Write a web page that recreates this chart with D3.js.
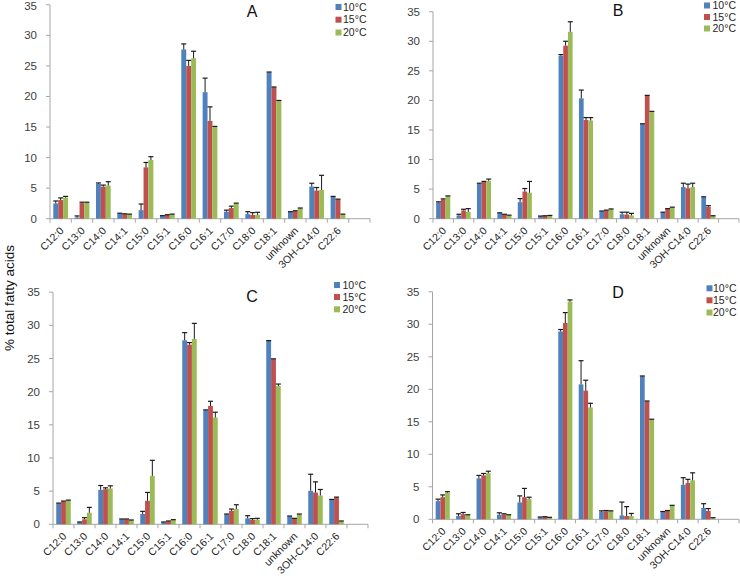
<!DOCTYPE html>
<html><head><meta charset="utf-8">
<script src="https://cdn.jsdelivr.net/npm/d3@7"></script>
<style>body{margin:0;background:#fff}svg{display:block}</style>
</head><body>
<svg id="chart" width="740" height="576"></svg>
<script>
const categories = ["C12:0","C13:0","C14:0","C14:1","C15:0","C15:1","C16:0","C16:1","C17:0","C18:0","C18:1","unknown","3OH-C14:0","C22:6"];
const seriesNames = ["10°C","15°C","20°C"];
const yTicks = [0,5,10,15,20,25,30,35];
const panelNames = ["A","B","C","D"];

// Panel A
const a10 = [2.5,0.2,5.7,0.85,1.4,0.45,27.7,20.7,1.15,0.75,23.95,1.1,5.25,3.6];
const a15 = [3.05,2.55,5.25,0.75,8.4,0.6,25.0,16.0,1.75,0.6,21.5,1.25,4.6,3.15];
const a20 = [3.45,2.65,5.4,0.7,9.6,0.7,26.25,15.05,2.5,0.65,19.3,1.7,4.7,0.7];
const a10e = [0.4,0.25,0.15,0.05,1.0,0.05,0.9,2.3,0.25,0.4,0.05,0.05,0.55,0.05];
const a15e = [0.35,0.15,0.25,0.05,0.8,0.05,0.9,2.3,0.3,0.4,0.05,0.05,0.5,0.05];
const a20e = [0.2,0.05,0.65,0.05,0.55,0.05,1.15,0.05,0.05,0.4,0.05,0.05,2.4,0.05];
// Panel B
const b10 = [2.75,0.55,5.9,0.95,2.8,0.4,27.55,20.35,1.25,0.75,16.0,1.05,5.35,3.65];
const b15 = [3.25,1.4,6.2,0.7,4.6,0.45,29.25,16.7,1.4,0.7,20.8,1.65,5.15,2.0];
const b20 = [3.8,1.15,6.4,0.55,4.4,0.5,31.6,16.6,1.6,0.55,18.1,1.9,5.35,0.45];
const b10e = [0.1,0.2,0.1,0.05,0.6,0.05,0.2,1.4,0.05,0.35,0.05,0.05,0.65,0.05];
const b15e = [0.1,0.2,0.1,0.05,0.5,0.05,0.75,0.4,0.05,0.4,0.05,0.05,0.7,0.2];
const b20e = [0.05,0.55,0.3,0.05,1.9,0.05,1.7,0.5,0.05,0.35,0.05,0.05,0.65,0.05];
// Panel C
const c10 = [3.15,0.3,5.2,0.75,1.55,0.3,27.75,17.2,1.5,0.9,27.65,1.2,5.05,3.7];
const c15 = [3.45,0.75,5.3,0.75,3.55,0.45,27.1,17.85,2.05,0.65,24.9,0.85,4.8,4.05];
const c20 = [3.6,1.75,5.4,0.6,7.3,0.65,27.95,16.1,2.3,0.7,20.85,1.5,4.35,0.45];
const c10e = [0.05,0.05,0.65,0.05,0.4,0.05,1.15,0.05,0.05,0.4,0.05,0.05,2.5,0.05];
const c15e = [0.05,0.25,0.2,0.05,1.25,0.05,0.3,0.7,0.25,0.2,0.05,0.05,1.6,0.05];
const c20e = [0.05,0.8,0.4,0.05,2.35,0.05,2.35,0.8,0.65,0.2,0.3,0.05,0.9,0.05];
// Panel D
const d10 = [2.8,0.5,6.3,0.7,2.6,0.3,28.9,20.75,1.15,0.6,22.0,1.15,5.3,1.75];
const d15 = [3.4,0.8,6.75,0.75,3.4,0.35,30.2,19.8,1.25,0.5,18.15,1.3,5.6,1.3];
const d20 = [4.1,0.65,7.1,0.65,3.1,0.25,33.5,17.2,1.25,0.5,15.35,2.1,6.0,0.15];
const d10e = [0.3,0.35,0.45,0.3,1.0,0.05,0.3,3.65,0.15,2.05,0.05,0.05,1.1,0.65];
const d15e = [0.35,0.25,0.3,0.1,1.35,0.05,1.6,1.6,0.1,1.45,0.05,0.05,0.55,0.35];
const d20e = [0.15,0.05,0.3,0.05,0.3,0.05,0.25,0.65,0.05,0.4,0.05,0.05,1.15,0.1];

const colors = ["#4F81BD","#C0504D","#9BBB59"];
const panels = [
  {name:"A", vals:[a10,a15,a20], errs:[a10e,a15e,a20e], x0:50, x1:370, yTop:4.8, y0:218.7, title:[252,11], leg:{sx:335.5, tx:343, ys:[7,19.7,32.5]}},
  {name:"B", vals:[b10,b15,b20], errs:[b10e,b15e,b20e], x0:433, x1:739, yTop:11.7, y0:218.7, title:[618,10], leg:{sx:704, tx:712.5, ys:[5.5,17,28.5]}},
  {name:"C", vals:[c10,c15,c20], errs:[c10e,c15e,c20e], x0:53, x1:368, yTop:292.2, y0:524.3, title:[252,296], leg:{sx:334, tx:342.5, ys:[285,297,309.3]}},
  {name:"D", vals:[d10,d15,d20], errs:[d10e,d15e,d20e], x0:432.5, x1:739, yTop:291.8, y0:519.3, title:[618,292], leg:{sx:706.5, tx:713, ys:[288.3,300.3,312.5]}}
];

const svg = d3.select("#chart");
const font = "'Liberation Sans', Arial, sans-serif";
const axisColor = "#a6a6a6";

panels.forEach(p => {
  const g = svg.append("g");
  const slots = categories.concat(["__empty__"]);
  const x = d3.scaleBand().domain(slots).range([p.x0, p.x1]).paddingInner(0).paddingOuter(0);
  const y = d3.scaleLinear().domain([0,35]).range([p.y0, p.yTop]);
  const bw = x.bandwidth();
  const barW = bw * 0.23;
  const xs = d3.scaleBand().domain(seriesNames).range([0, barW*3]);

  // y axis
  g.append("line").attr("x1",p.x0).attr("x2",p.x0).attr("y1",y(35)).attr("y2",y(0))
    .attr("stroke",axisColor).attr("stroke-width",1);
  yTicks.forEach(t => {
    g.append("line").attr("x1",p.x0-4).attr("x2",p.x0).attr("y1",y(t)).attr("y2",y(t))
      .attr("stroke",axisColor);
    g.append("text").attr("x",p.x0-13).attr("y",Math.max(y(t), 6)).attr("dy","0.35em")
      .attr("text-anchor","end").attr("font-family",font).attr("font-size",11.5)
      .attr("fill","#404040").text(t);
  });
  // x axis
  g.append("line").attr("x1",p.x0).attr("x2",p.x1).attr("y1",y(0)).attr("y2",y(0))
    .attr("stroke",axisColor);
  slots.forEach(s => {
    g.append("line").attr("x1",x(s)).attr("x2",x(s)).attr("y1",y(0)).attr("y2",y(0)+4).attr("stroke",axisColor);
  });
  g.append("line").attr("x1",p.x1).attr("x2",p.x1).attr("y1",y(0)).attr("y2",y(0)+4).attr("stroke",axisColor);

  categories.forEach(c => {
    const cx = x(c) + bw/2 + 1;
    const cy = y(0) + 10;
    g.append("text").attr("transform",`translate(${cx},${cy}) rotate(-45)`)
      .attr("text-anchor","end").attr("dy","0.35em")
      .attr("font-family",font).attr("font-size",10.5).attr("fill","#262626").text(c);
  });

  // bars
  p.vals.forEach((arr, si) => {
    const off = (bw - barW*3)/2 + xs(seriesNames[si]);
    categories.forEach((c, i) => {
      const v = arr[i];
      const bx = x(c) + off;
      g.append("rect").attr("x",bx).attr("y",y(v)).attr("width",barW).attr("height",y(0)-y(v))
        .attr("fill",colors[si]);
      const e = p.errs[si][i];
      const ex = bx + barW/2;
      g.append("line").attr("x1",ex).attr("x2",ex).attr("y1",y(v)).attr("y2",y(v+e))
        .attr("stroke","#1a1a1a").attr("stroke-width",1);
      g.append("line").attr("x1",ex-2.5).attr("x2",ex+2.5).attr("y1",y(v+e)).attr("y2",y(v+e))
        .attr("stroke","#1a1a1a").attr("stroke-width",1.2);
    });
  });

  // title
  g.append("text").attr("x",p.title[0]).attr("y",p.title[1]).attr("dy","0.35em")
    .attr("text-anchor","middle").attr("font-family",font).attr("font-size",16)
    .attr("fill","#111").text(p.name);

  // legend
  seriesNames.forEach((s, si) => {
    g.append("rect").attr("x",p.leg.sx).attr("y",p.leg.ys[si]-3).attr("width",6).attr("height",6).attr("fill",colors[si]);
    g.append("text").attr("x",p.leg.tx).attr("y",p.leg.ys[si]).attr("dy","0.35em")
      .attr("font-family",font).attr("font-size",10.5).attr("fill","#262626").text(s);
  });
});

svg.append("text").attr("transform","translate(9,298) rotate(-90)")
  .attr("text-anchor","middle").attr("dy","0.35em")
  .attr("font-family",font).attr("font-size",13.5).attr("fill","#111")
  .text("% total fatty acids");
</script>
</body></html>
